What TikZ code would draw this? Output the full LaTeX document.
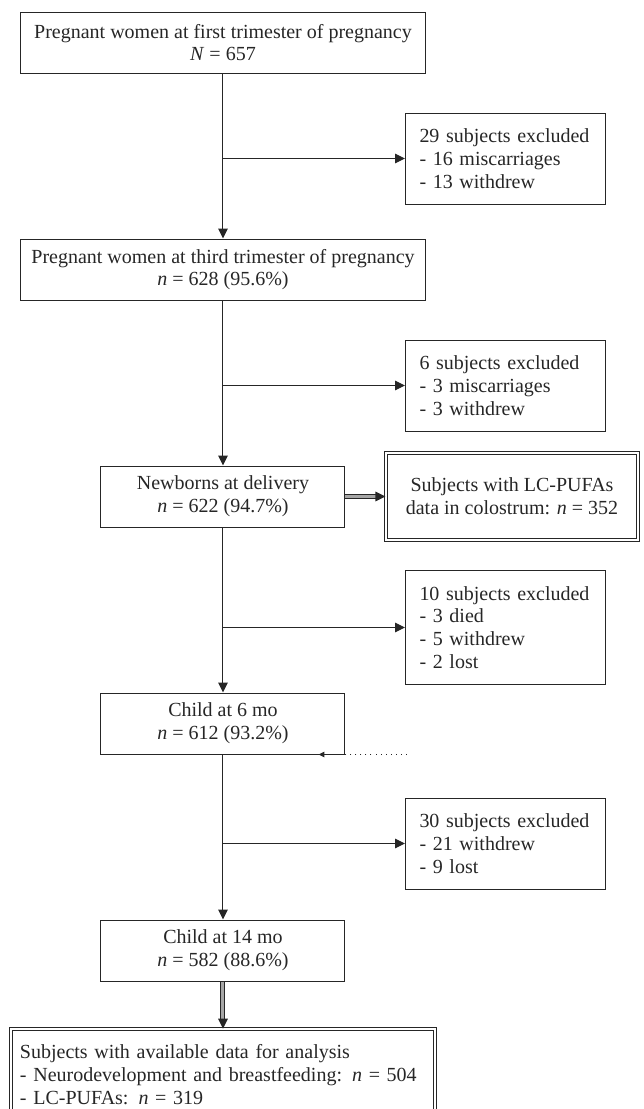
\documentclass[tikz,border=0pt]{standalone}
\usepackage{fontspec}
\setmainfont{Liberation Serif}
\usetikzlibrary{arrows.meta,positioning}

\begin{document}
\begin{tikzpicture}[auto,node distance=82.5pt,
  >={Triangle[length=5pt,width=4.8pt]},
  font=\fontsize{10}{11.35}\selectfont]
\tikzstyle{every path}=[line width=.5pt,color=black!85];
\tikzstyle{stage}=[draw,align=center,minimum height=30.5pt,inner ysep=2pt];
\tikzstyle{wide}=[stage,minimum width=202pt];
\tikzstyle{narrow}=[stage,minimum width=122pt];
\tikzstyle{excl}=[draw,align=left,text width=86pt,inner xsep=7pt,minimum height=45.5pt];
\tikzstyle{twin}=[draw,double,double distance=1.2pt];
\tikzstyle{fat}=[double=black!35,double distance=1.5pt];
\useasboundingbox (-111.5pt,21.25pt) rectangle (210pt,-533.25pt);
% main stages
\node[wide] (first) at (0,0) {Pregnant women at first trimester of pregnancy\\ \textit{N} = 657};
\node[wide] (third) [below=of first] {Pregnant women at third trimester of pregnancy\\ \textit{n} = 628 (95.6\%)};
\node[narrow] (newborn) [below=of third] {Newborns at delivery\\ \textit{n} = 622 (94.7\%)};
\node[narrow] (sixmo) [below=of newborn] {Child at 6 mo\\ \textit{n} = 612 (93.2\%)};
\node[narrow] (fourteen) [below=of sixmo] {Child at 14 mo\\ \textit{n} = 582 (88.6\%)};
\node[twin,align=center,minimum width=126pt,minimum height=43.3pt] (colos) [right=20pt of newborn] {Subjects with LC-PUFAs\\ data in colostrum: \textit{n} = 352};
\node[twin,align=left,text width=203pt,inner xsep=4.5pt,minimum height=45.5pt] (avail) [below=23.6pt of fourteen] {Subjects with available data for analysis\\ - Neurodevelopment and breastfeeding: \textit{n} = 504\\ - LC-PUFAs: \textit{n} = 319};
% exclusions
\coordinate[below=42.5pt of first] (b1);
\coordinate[below=42.5pt of third] (b2);
\coordinate[below=50pt of newborn] (b3);
\coordinate[below=44.5pt of sixmo] (b4);
\node[excl] (ex1) [right=91pt of b1] {29 subjects excluded\\ - 16 miscarriages\\ - 13 withdrew};
\node[excl] (ex2) [right=91pt of b2] {6 subjects excluded\\ - 3 miscarriages\\ - 3 withdrew};
\node[excl,minimum height=57pt] (ex3) [right=91pt of b3] {10 subjects excluded\\ - 3 died\\ - 5 withdrew\\ - 2 lost};
\node[excl] (ex4) [right=91pt of b4] {30 subjects excluded\\ - 21 withdrew\\ - 9 lost};
\coordinate[right=30.5pt of sixmo.south east] (dotend);
\coordinate[left=13.5pt of sixmo.south east] (dottip);
% connectors
\path[->] (first) edge (third);
\path[->] (third) edge (newborn);
\path[->] (newborn) edge (sixmo);
\path[->] (sixmo) edge (fourteen);
\path[->] (b1) edge (ex1);
\path[->] (b2) edge (ex2);
\path[->] (b3) edge (ex3);
\path[->] (b4) edge (ex4);
\path[->] (newborn) edge[fat] (colos);
\path[->] (fourteen) edge[fat] (avail);
\path[-{Triangle[length=3pt,width=2.8pt]}] (dotend) edge[dotted] (dottip);
\end{tikzpicture}
\end{document}
